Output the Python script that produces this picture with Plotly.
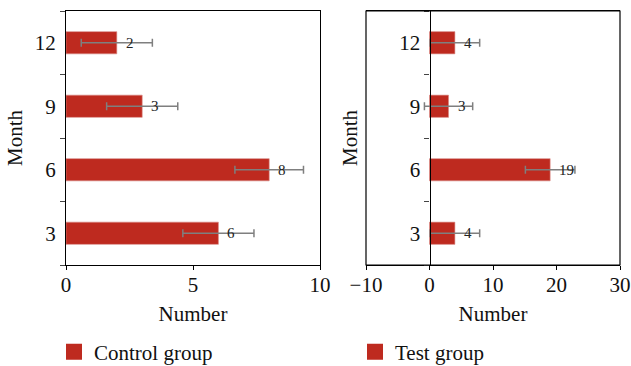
import plotly.graph_objects as go

months = ["3", "6", "9", "12"]
control_vals = [6, 8, 3, 2]
control_err = [1.4, 1.35, 1.4, 1.4]
test_vals = [4, 19, 3, 4]
test_err = [3.9, 3.9, 3.8, 3.9]
control_xticks = [0, 5, 10]
test_xticks = [-10, 0, 10, 20, 30]

RED = "#BE2A1F"
GRAY = "#7F7F7F"
FONT = "Liberation Serif"
W, H = 631, 366

fig = go.Figure()
fig.add_trace(go.Bar(
    x=control_vals, y=months, orientation="h", name="Control group",
    marker=dict(color=RED, line=dict(color="#D98A84", width=0.6)), width=0.35,
    error_x=dict(type="data", array=control_err, color=GRAY, thickness=1.5, width=4),
    xaxis="x", yaxis="y", showlegend=False))
fig.add_trace(go.Bar(
    x=test_vals, y=months, orientation="h", name="Test group",
    marker=dict(color=RED, line=dict(color="#D98A84", width=0.6)), width=0.35,
    error_x=dict(type="data", array=test_err, color=GRAY, thickness=1.5, width=4),
    xaxis="x2", yaxis="y2", showlegend=False))

# legend entries (square swatches)
fig.add_trace(go.Scatter(x=[None], y=[None], mode="markers", name="Control group",
                         marker=dict(symbol="square", size=17, color=RED),
                         xaxis="x", yaxis="y", legend="legend", showlegend=True))
fig.add_trace(go.Scatter(x=[None], y=[None], mode="markers", name="Test group",
                         marker=dict(symbol="square", size=17, color=RED),
                         xaxis="x2", yaxis="y2", legend="legend2", showlegend=True))

for i, v in enumerate(control_vals):
    fig.add_annotation(x=v, y=i, xref="x", yref="y", text=str(v), showarrow=False,
                       xanchor="left", xshift=7, font=dict(family=FONT, size=15, color="#222"))
for i, v in enumerate(test_vals):
    fig.add_annotation(x=v, y=i, xref="x2", yref="y2", text=str(v), showarrow=False,
                       xanchor="left", xshift=7, font=dict(family=FONT, size=15, color="#222"))

x1d = [66 / W, 320 / W]
x2d = [366 / W, 620 / W]
yd = [(H - 265) / H, (H - 11) / H]
x2range = [-10, 30]
pos2 = x2d[0] + (0 - x2range[0]) / (x2range[1] - x2range[0]) * (x2d[1] - x2d[0])

FS = 21
tickfont = dict(family=FONT, size=FS, color="#111")
titlefont = dict(family=FONT, size=FS, color="#111")

common_x = dict(showline=True, linecolor="black", linewidth=1.2, mirror=True,
                ticks="outside", ticklen=4, tickcolor="black", showgrid=False,
                zeroline=False, tickfont=tickfont, automargin=False, ticklabelstandoff=-3)

legfont = dict(family=FONT, size=FS, color="#111")

fig.update_layout(
    width=W, height=H, margin=dict(l=0, r=0, t=0, b=0, autoexpand=False),
    plot_bgcolor="white", paper_bgcolor="white",
    barmode="overlay", showlegend=True,
    xaxis=dict(domain=x1d, range=[0, 10], tickvals=control_xticks, anchor="y",
               title=dict(text="Number", font=titlefont, standoff=10), **common_x),
    yaxis=dict(domain=yd, type="category", categoryorder="array", categoryarray=months,
               range=[-0.5, 3.5], anchor="x", tickson="boundaries", ticks="outside", ticklen=5,
               showline=True, linecolor="black", linewidth=1.2, mirror=True, showgrid=False,
               tickfont=tickfont, automargin=False, ticklabelstandoff=5,
               title=dict(text="Month", font=titlefont, standoff=6)),
    xaxis2=dict(domain=x2d, range=x2range, tickvals=test_xticks, anchor="y2",
                title=dict(text="Number", font=titlefont, standoff=10), **common_x),
    yaxis2=dict(domain=yd, type="category", categoryorder="array", categoryarray=months,
                range=[-0.5, 3.5], anchor="free", position=pos2, tickson="boundaries",
                ticks="outside", ticklen=5, showline=True, linecolor="black", linewidth=1.2,
                showgrid=False, tickfont=tickfont, automargin=False, ticklabelstandoff=5,
                title=dict(text="Month", font=titlefont, standoff=34)),
    legend=dict(orientation="h", x=54 / W, xanchor="left", y=14 / H, yanchor="middle",
                font=legfont, bgcolor="rgba(0,0,0,0)", visible=True, itemsizing="trace",
                borderwidth=0),
    legend2=dict(orientation="h", x=355 / W, xanchor="left", y=14 / H, yanchor="middle",
                 font=legfont, bgcolor="rgba(0,0,0,0)", visible=True, itemsizing="trace",
                 borderwidth=0),
    shapes=[dict(type="rect", xref="x2 domain", yref="y2 domain", x0=0, x1=1, y0=0, y1=1,
                 line=dict(color="black", width=1.2), layer="above")],
)

fig.write_html("out.html", post_script="document.body.style.margin='0';",
               config={"displayModeBar": False})
